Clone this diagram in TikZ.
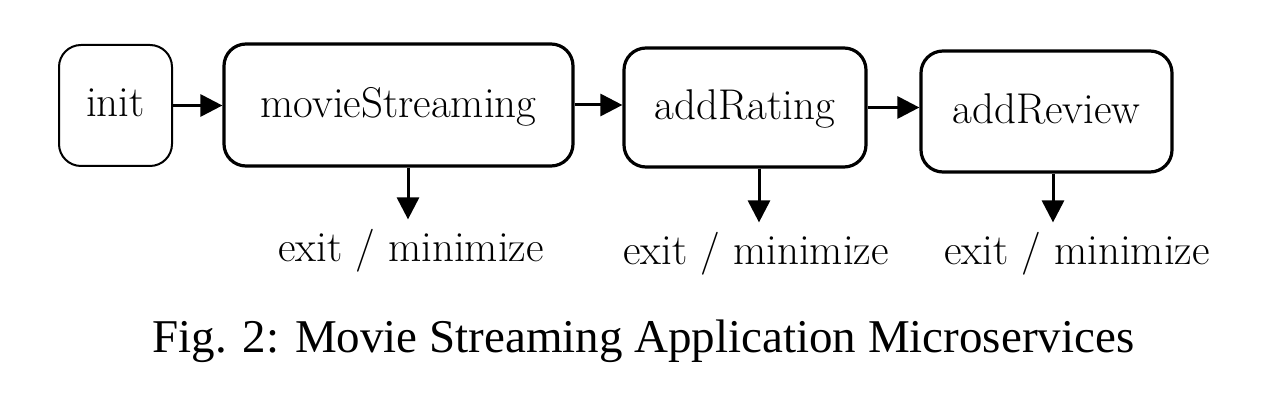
\documentclass[tikz,border=0pt]{standalone}
\usepackage{fontspec}
\newfontfamily\capfont{Liberation Serif}
\usetikzlibrary{arrows.meta}
\tikzset{
  service/.style = {draw, line width = 1.6pt, rounded corners = 11pt, text depth = .25em, inner sep = 0pt},
  exitlabel/.style = {inner sep = 1pt, anchor = base},
  flow/.style = {line width = 1.5pt, -{Triangle[length = 11pt, width = 11pt]}}
}
\begin{document}
\begin{tikzpicture}[x = 0.5pt, y = -0.5pt, font = \fontsize{21.5}{25}\selectfont]
\useasboundingbox (0,0) rectangle (1280,400);
\node [service, line width = 1pt, minimum width = 56.5pt, minimum height = 60.5pt] (init) at (115.5,105.5) {init};
\node [service, minimum width = 174.5pt, minimum height = 61pt] (stream) at (398.5,105) {movieStreaming};
\node [service, minimum width = 121pt, minimum height = 59.5pt] (rating) at (745,107.5) {addRating};
\node [service, minimum width = 125.5pt, minimum height = 60.5pt] (review) at (1046.5,111.5) {addReview};
\node [exitlabel] (exitA) at (411,262) {exit / minimize};
\node [exitlabel] (exitB) at (756,265) {exit / minimize};
\node [exitlabel] (exitC) at (1077,265) {exit / minimize};
\draw [flow] (init.east) -- (init.east -| stream.west);
\draw [flow] (stream.east) -- (stream.east -| rating.west);
\draw [flow] (rating.east) -- (rating.east -| review.west);
\draw [flow] ([xshift = 4.75pt]stream.south) -- ([xshift = 4.75pt, yshift = 4pt]stream.south |- exitA.north);
\draw [flow] ([xshift = 7pt]rating.south) -- ([xshift = 7pt, yshift = 4pt]rating.south |- exitB.north);
\draw [flow] ([xshift = 3.25pt]review.south) -- ([xshift = 3.25pt, yshift = 4pt]review.south |- exitC.north);
\node [font = \capfont\fontsize{23.5}{27}\selectfont, anchor = base] (caption) at (643.5,353) {Fig. 2: Movie Streaming Application Microservices};
\end{tikzpicture}
\end{document}
